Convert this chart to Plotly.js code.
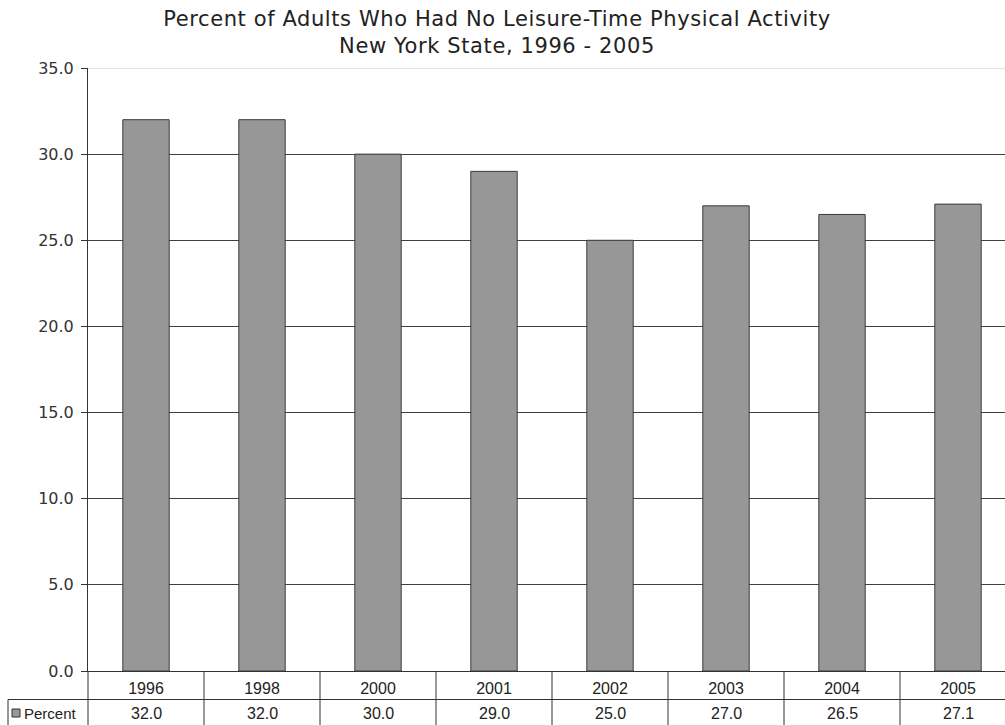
<!DOCTYPE html>
<html>
<head>
<meta charset="utf-8">
<script src="https://cdn.plot.ly/plotly-3.0.1.min.js"></script>
<style>
html,body{margin:0;padding:0;overflow:hidden;background:#fff;}
#chart{width:1016px;height:725px;}
.gtitle{letter-spacing:0.6px;}
</style>
</head>
<body>
<div id="chart"></div>
<script>
const years = ["1996","1998","2000","2001","2002","2003","2004","2005"];
const percent = [32.0, 32.0, 30.0, 29.0, 25.0, 27.0, 26.5, 27.1];
const seriesName = "Percent";
const yTicks = [0, 5, 10, 15, 20, 25, 30, 35];

const W = 1016, H = 725;
const mL = 88, mR = 0, mT = 68, mB = 54;
const plotW = W - mL - mR, plotH = H - mT - mB;
const px2x = p => p / plotW;
const px2y = p => p / plotH;

const lineCol = '#333333';
const tableFont = {family:'Liberation Sans, Arial', size:16, color:'#222'};
const shapes = [];
shapes.push({type:'line', xref:'paper', yref:'y', x0:0, x1:1, y0:35, y1:35,
  line:{color:'#c8c8c8', width:1}, layer:'above'});
shapes.push({type:'line', xref:'paper', yref:'paper', x0:-px2x(80), x1:1,
  y0:-px2y(28.5), y1:-px2y(28.5), line:{color:lineCol, width:1}});
shapes.push({type:'line', xref:'paper', yref:'paper', x0:-px2x(80), x1:-px2x(80),
  y0:-px2y(28.5), y1:-px2y(70), line:{color:lineCol, width:1}});
shapes.push({type:'line', xref:'paper', yref:'paper', x0:0, x1:0,
  y0:0, y1:-px2y(70), line:{color:lineCol, width:1}});
for (let i = 0; i < years.length - 1; i++) {
  shapes.push({type:'line', xref:'x', yref:'paper', x0:i+0.5, x1:i+0.5,
    y0:0, y1:-px2y(70), line:{color:lineCol, width:1}});
}
shapes.push({type:'rect', xref:'paper', yref:'paper',
  x0:-px2x(76), x1:-px2x(68), y0:-px2y(38), y1:-px2y(46),
  fillcolor:'#999999', line:{color:'#333333', width:1}});

const annotations = [];
annotations.push({xref:'paper', yref:'paper', x:-px2x(66), y:-px2y(42.5),
  xanchor:'left', yanchor:'middle', text:seriesName, showarrow:false,
  font:{family:'Liberation Sans, Arial', size:15, color:'#222'}});
for (let i = 0; i < years.length; i++) {
  annotations.push({xref:'x', yref:'paper', x:i, y:-px2y(42.5),
    xanchor:'center', yanchor:'middle', text:percent[i].toFixed(1), showarrow:false,
    font:tableFont});
}

const data = [{
  type:'bar',
  x: years.map((_, i) => i),
  y: percent,
  name: seriesName,
  marker:{color:'#979797', line:{color:'#3a3a3a', width:1}},
  width: 0.4,
  hoverinfo:'y'
}];

const layout = {
  width: W, height: H,
  margin:{l:mL, r:mR, t:mT, b:mB, pad:0},
  paper_bgcolor:'#ffffff', plot_bgcolor:'#ffffff',
  showlegend:false,
  title:{
    text:'Percent of Adults Who Had No Leisure-Time Physical Activity<br>New York State, 1996 - 2005',
    x: (497 - mL)/plotW, xanchor:'center', xref:'paper',
    y: 1 - 25.5/H, yanchor:'middle', yref:'container',
    font:{family:'DejaVu Sans, Verdana', size:21, color:'#222'}
  },
  xaxis:{
    range:[-0.5, years.length - 0.5],
    tickmode:'array', tickvals: years.map((_, i) => i), ticktext: years,
    showgrid:false, zeroline:false,
    showline:true, linecolor:lineCol, linewidth:1,
    ticks:'', ticklabelstandoff:3,
    tickfont:tableFont,
    fixedrange:true
  },
  yaxis:{
    range:[0, 35],
    tickmode:'array', tickvals:yTicks, ticktext:yTicks.map(v => v.toFixed(1)),
    showgrid:true, gridcolor:'#404040', gridwidth:1,
    zeroline:false,
    showline:true, linecolor:lineCol, linewidth:1,
    ticks:'outside', ticklen:6, tickcolor:lineCol, tickwidth:1,
    ticklabelstandoff:4,
    tickfont:{family:'DejaVu Sans, Verdana', size:16, color:'#333'},
    fixedrange:true
  },
  bargap:0.6,
  shapes: shapes,
  annotations: annotations
};

Plotly.newPlot('chart', data, layout, {displayModeBar:false, staticPlot:true});
</script>
</body>
</html>
